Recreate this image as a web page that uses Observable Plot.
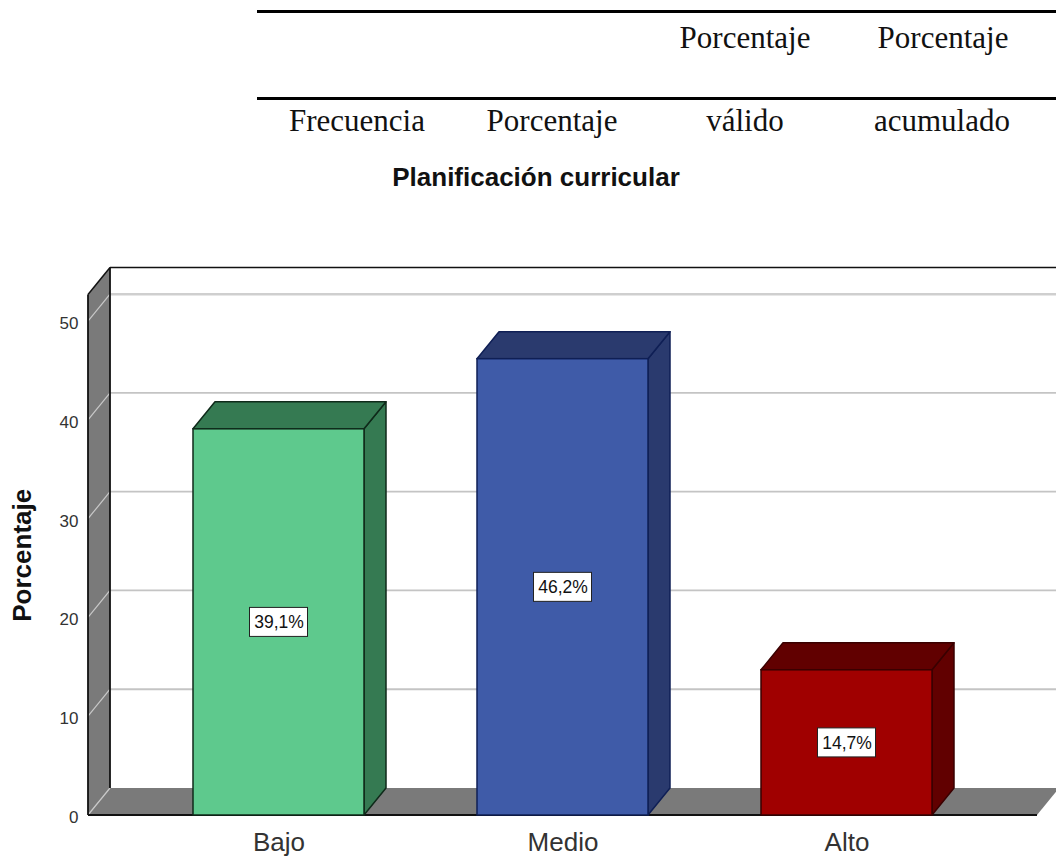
<!DOCTYPE html>
<html lang="es">
<head>
<meta charset="utf-8">
<script src="https://cdn.jsdelivr.net/npm/d3@7"></script>
<script src="https://cdn.jsdelivr.net/npm/@observablehq/plot@0.6"></script>
<style>
  html, body { margin: 0; padding: 0; background: #fff; overflow: hidden; }
  #head { position: relative; width: 1056px; height: 210px; }
  #head .rule { position: absolute; left: 257px; right: 0; height: 3px; background: #000; }
  #head .cell { position: absolute; transform: translate(-50%, -50%); white-space: nowrap;
    font: 31px "Liberation Serif", serif; color: #111; }
  #head .title { position: absolute; left: 536px; top: 177px; transform: translate(-50%, -50%); white-space: nowrap;
    font: bold 26px "Liberation Sans", Arial, sans-serif; color: #111; }
  svg { display: block; }
</style>
</head>
<body>
<div id="head"></div>
<div id="chart"></div>
<script>
const categories = ["Bajo", "Medio", "Alto"];
const percentages = [39.1, 46.2, 14.7];
const percentLabels = ["39,1%", "46,2%", "14,7%"];
const frontColors = ["#5ec98d", "#3f5ba8", "#a00000"];
const shadeColors = ["#357a52", "#2a3a6e", "#610000"];
const edgeColors = ["#0f2a1a", "#0f1f55", "#3a0000"];
const yTicks = [0, 10, 20, 30, 40, 50];
const headerRow1 = [["Porcentaje", 745], ["Porcentaje", 943]];
const headerRow2 = [["Frecuencia", 357], ["Porcentaje", 552], ["válido", 745], ["acumulado", 942]];
const chartTitle = "Planificación curricular";
const yLabel = "Porcentaje";

const head = document.getElementById("head");
[10, 97].forEach(top => {
  const r = document.createElement("div");
  r.className = "rule"; r.style.top = top + "px"; head.append(r);
});
[[headerRow1, 38], [headerRow2, 121]].forEach(([row, top]) => row.forEach(([t, left]) => {
  const c = document.createElement("div");
  c.className = "cell"; c.textContent = t;
  c.style.left = left + "px"; c.style.top = top + "px"; head.append(c);
}));
const ttl = document.createElement("div");
ttl.className = "title"; ttl.textContent = chartTitle; head.append(ttl);

const rows = categories.map((c, i) => ({
  category: c, value: percentages[i], label: percentLabels[i],
  front: frontColors[i], shade: shadeColors[i], edge: edgeColors[i]
}));

const DX = 22, DY = -27;
const NS = "http://www.w3.org/2000/svg";
const el = (name, attrs) => {
  const e = document.createElementNS(NS, name);
  for (const k in attrs) e.setAttribute(k, attrs[k]);
  return e;
};
const poly = (pts, fill, stroke, sw = 1.5) =>
  el("polygon", {points: pts.map(p => p.join(",")).join(" "), fill, stroke: stroke || "none", "stroke-width": sw, "stroke-linejoin": "round"});
const line = (x1, y1, x2, y2, stroke, sw) =>
  el("line", {x1, y1, x2, y2, stroke, "stroke-width": sw});

function walls(index, {y}, values, {width, height, marginLeft, marginRight, marginTop, marginBottom}) {
  const g = el("g", {});
  const L = marginLeft, R = width - marginRight, B = height - marginBottom, T = marginTop;
  g.append(poly([[L, B], [R, B], [R + DX, B + DY], [L + DX, B + DY]], "#7a7a7a"));
  g.append(poly([[L, B], [L + DX, B + DY], [L + DX, T + DY], [L, T]], "#7a7a7a"));
  for (const t of yTicks) {
    const yy = y(t);
    const col = t === 50 ? "#cfcfcf" : "#c4c4c4";
    if (t > 0) g.append(line(L + DX, yy + DY, width, yy + DY, col, t === 50 ? 2.5 : 1.8));
    g.append(line(L, yy, L + DX, yy + DY, "#c9c9c9", 1.2));
  }
  g.append(line(L + DX, T + DY, width, T + DY, "#111", 1.5));
  g.append(line(L, T, L + DX, T + DY, "#111", 1.5));
  g.append(line(L, T, L, B, "#111", 1.8));
  g.append(line(L + DX, T + DY, L + DX, B + DY, "#111", 1.8));
  g.append(line(L, B, R, B, "#111", 1.8));
  return g;
}

function barDepth(index, {x, y}) {
  const g = el("g", {});
  const w = x.bandwidth();
  for (const r of rows) {
    const x0 = x(r.category), x1 = x0 + w, y0 = y(0), yv = y(r.value);
    g.append(poly([[x1, y0], [x1 + DX, y0 + DY], [x1 + DX, yv + DY], [x1, yv]], r.shade, r.edge));
    g.append(poly([[x0, yv], [x1, yv], [x1 + DX, yv + DY], [x0 + DX, yv + DY]], r.shade, r.edge));
  }
  return g;
}

function labelBoxes(index, {x, y}) {
  const g = el("g", {});
  const w = x.bandwidth();
  for (const r of rows) {
    const cx = x(r.category) + w / 2, cy = y(r.value / 2);
    g.append(el("rect", {x: cx - 29, y: cy - 14.5, width: 58, height: 29, fill: "#fff", stroke: "#222", "stroke-width": 1}));
  }
  return g;
}

const plot = Plot.plot({
  width: 1056,
  height: 647,
  marginLeft: 88,
  marginRight: 19,
  marginTop: 84.5,
  marginBottom: 42,
  style: {background: "transparent", fontFamily: '"Liberation Sans", Arial, sans-serif', color: "#333"},
  x: {type: "band", domain: categories, paddingInner: 0.397, paddingOuter: 0.366, label: null},
  y: {domain: [0, 52.7], label: null},
  marks: [
    walls,
    barDepth,
    Plot.barY(rows, {x: "category", y: "value", fill: d => d.front, stroke: d => d.edge, strokeWidth: 1.5}),
    labelBoxes,
    Plot.text(rows, {x: "category", y: d => d.value / 2, text: "label", fontSize: 17.5, fill: "#111"}),
    Plot.axisY({ticks: yTicks, tickFormat: d => String(d), tickSize: 0, tickPadding: 10, fontSize: 17, dy: 2, label: null}),
    Plot.axisX({tickSize: 0, tickPadding: 17, fontSize: 26, label: null}),
    Plot.text([yLabel], {frameAnchor: "left", textAnchor: "middle", dx: -66, rotate: -90, text: d => d, fontSize: 26, fontWeight: "bold", fill: "#111"})
  ]
});
document.getElementById("chart").append(plot);
</script>
</body>
</html>
